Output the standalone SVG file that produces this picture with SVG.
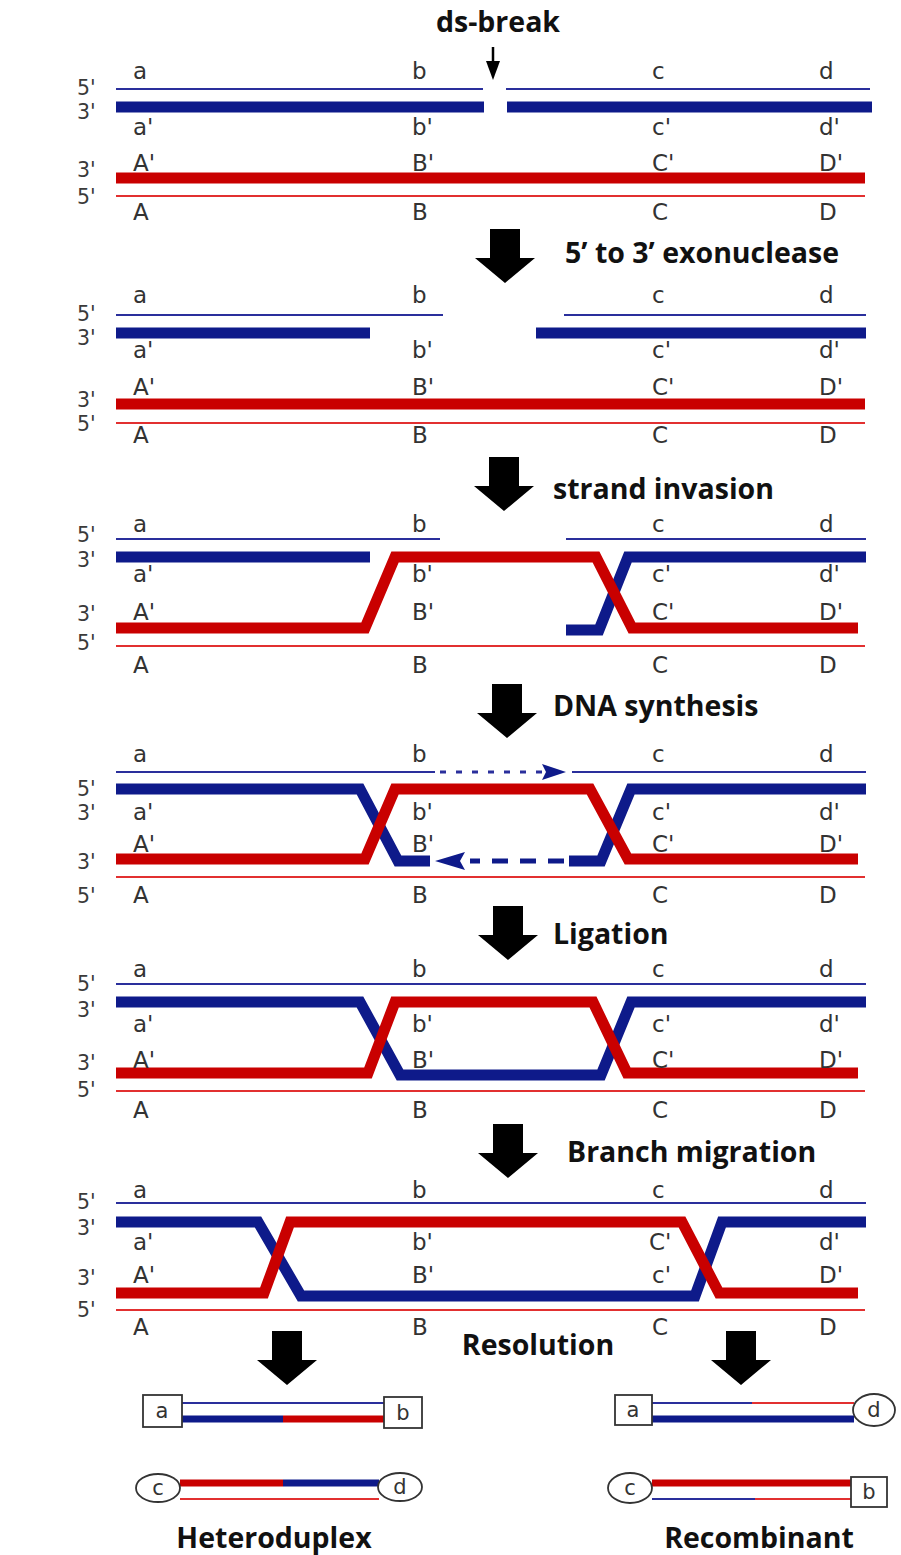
<svg xmlns="http://www.w3.org/2000/svg" width="901" height="1555" viewBox="0 0 901 1555">
<style>
.tb{stroke:#2a2f9c;stroke-width:2.2;fill:none}
.TB{stroke:#0e1a8a;stroke-width:11;fill:none;stroke-linejoin:miter}
.TR{stroke:#c90000;stroke-width:11;fill:none;stroke-linejoin:miter}
.tr{stroke:#e23030;stroke-width:2.2;fill:none}
.sb{stroke:#0e1a8a;stroke-width:7;fill:none}
.sr{stroke:#c90000;stroke-width:7;fill:none}
.lb{font-family:"DejaVu Sans",Verdana,sans-serif;font-size:23px;fill:#333}
.end{font-family:"DejaVu Sans",Verdana,sans-serif;font-size:20.5px;fill:#3a3a3a}
.tt{font-family:"Open Sans","Liberation Sans",sans-serif;font-weight:700;font-size:28.5px;fill:#111}
.box{fill:#fff;stroke:#333;stroke-width:1.8}
.cap{font-family:"DejaVu Sans",Verdana,sans-serif;font-size:21px;fill:#333;text-anchor:middle}
</style>
<defs>
<path id="bigArrow" d="M-15,0 H15 V29 H30 L0,54 L-30,29 H-15 Z" fill="#000"/>
</defs>
<rect width="901" height="1555" fill="#fff"/>

<g id="titles">
<text class="tt" x="498" y="32" text-anchor="middle">ds-break</text>
<text class="tt" x="565" y="263">5’ to 3’ exonuclease</text>
<text class="tt" x="553" y="499">strand invasion</text>
<text class="tt" x="553" y="716">DNA synthesis</text>
<text class="tt" x="553" y="944">Ligation</text>
<text class="tt" x="567" y="1162">Branch migration</text>
<text class="tt" x="538" y="1355" text-anchor="middle">Resolution</text>
<text class="tt" x="274" y="1548" text-anchor="middle">Heteroduplex</text>
<text class="tt" x="759" y="1548" text-anchor="middle">Recombinant</text>
</g>

<g id="connectors">
<path d="M493,47 V63" stroke="#000" stroke-width="2.5"/>
<path d="M486,61 H500 L493,80 Z" fill="#000"/>
<use href="#bigArrow" x="505" y="229"/>
<use href="#bigArrow" x="504" y="457"/>
<use href="#bigArrow" x="507" y="684"/>
<use href="#bigArrow" x="508" y="906"/>
<use href="#bigArrow" x="508" y="1124"/>
<use href="#bigArrow" x="287" y="1331"/>
<use href="#bigArrow" x="741" y="1331"/>
</g>

<!-- Panel 1 -->
<g id="panel1">
<path class="tb" d="M116,89 H483 M506,89 H870"/>
<path class="TB" d="M116,107 H484 M507,107 H872"/>
<path class="TR" d="M116,178 H865"/>
<path class="tr" d="M116,196 H865"/>
<text class="end" x="77" y="95">5'</text>
<text class="end" x="77" y="119">3'</text>
<text class="end" x="77" y="177">3'</text>
<text class="end" x="77" y="204">5'</text>
<text class="lb" x="133" y="79">a</text><text class="lb" x="412" y="79">b</text><text class="lb" x="652" y="79">c</text><text class="lb" x="819" y="79">d</text>
<text class="lb" x="133" y="135">a'</text><text class="lb" x="412" y="135">b'</text><text class="lb" x="652" y="135">c'</text><text class="lb" x="819" y="135">d'</text>
<text class="lb" x="133" y="171">A'</text><text class="lb" x="412" y="171">B'</text><text class="lb" x="652" y="171">C'</text><text class="lb" x="819" y="171">D'</text>
<text class="lb" x="133" y="220">A</text><text class="lb" x="412" y="220">B</text><text class="lb" x="652" y="220">C</text><text class="lb" x="819" y="220">D</text>
</g>

<!-- Panel 2 -->
<g id="panel2">
<path class="tb" d="M116,315 H443 M564,315 H866"/>
<path class="TB" d="M116,333 H370 M536,333 H866"/>
<path class="TR" d="M116,404 H865"/>
<path class="tr" d="M116,423 H865"/>
<text class="end" x="77" y="321">5'</text>
<text class="end" x="77" y="345">3'</text>
<text class="end" x="77" y="407">3'</text>
<text class="end" x="77" y="431">5'</text>
<text class="lb" x="133" y="303">a</text><text class="lb" x="412" y="303">b</text><text class="lb" x="652" y="303">c</text><text class="lb" x="819" y="303">d</text>
<text class="lb" x="133" y="358">a'</text><text class="lb" x="412" y="358">b'</text><text class="lb" x="652" y="358">c'</text><text class="lb" x="819" y="358">d'</text>
<text class="lb" x="133" y="395">A'</text><text class="lb" x="412" y="395">B'</text><text class="lb" x="652" y="395">C'</text><text class="lb" x="819" y="395">D'</text>
<text class="lb" x="133" y="443">A</text><text class="lb" x="412" y="443">B</text><text class="lb" x="652" y="443">C</text><text class="lb" x="819" y="443">D</text>
</g>

<!-- Panel 3 -->
<g id="panel3">
<path class="tb" d="M116,539 H440 M566,539 H866"/>
<path class="TB" d="M116,557 H370"/>
<path class="TB" d="M866,557 H628 L599,630 H566"/>
<path class="TR" d="M116,628 H365 L395,557 H596 L632,628 H858"/>
<path class="tr" d="M116,646 H865"/>
<text class="end" x="77" y="542">5'</text>
<text class="end" x="77" y="567">3'</text>
<text class="end" x="77" y="621">3'</text>
<text class="end" x="77" y="650">5'</text>
<text class="lb" x="133" y="532">a</text><text class="lb" x="412" y="532">b</text><text class="lb" x="652" y="532">c</text><text class="lb" x="819" y="532">d</text>
<text class="lb" x="133" y="582">a'</text><text class="lb" x="412" y="582">b'</text><text class="lb" x="652" y="582">c'</text><text class="lb" x="819" y="582">d'</text>
<text class="lb" x="133" y="620">A'</text><text class="lb" x="412" y="620">B'</text><text class="lb" x="652" y="620">C'</text><text class="lb" x="819" y="620">D'</text>
<text class="lb" x="133" y="673">A</text><text class="lb" x="412" y="673">B</text><text class="lb" x="652" y="673">C</text><text class="lb" x="819" y="673">D</text>
</g>

<!-- Panel 4 -->
<g id="panel4">
<path class="tb" d="M116,772 H435 M572,772 H866"/>
<path d="M440,772 H543" stroke="#2a2f9c" stroke-width="3" stroke-dasharray="6 10"/>
<path d="M566,772 L542,764 L546,772 L542,780 Z" fill="#0e1a8a"/>
<path class="TB" d="M116,789 H360 L398,861 H430"/>
<path class="TB" d="M866,789 H631 L601,861 H569"/>
<path d="M564,861 H470" stroke="#0e1a8a" stroke-width="5" stroke-dasharray="16 12"/>
<path d="M435,861 L465,852 L460,861 L465,870 Z" fill="#0e1a8a"/>
<path class="TR" d="M116,859 H365 L395,789 H590 L628,859 H858"/>
<path class="tr" d="M116,877 H865"/>
<text class="end" x="77" y="796">5'</text>
<text class="end" x="77" y="820">3'</text>
<text class="end" x="77" y="869">3'</text>
<text class="end" x="77" y="903">5'</text>
<text class="lb" x="133" y="762">a</text><text class="lb" x="412" y="762">b</text><text class="lb" x="652" y="762">c</text><text class="lb" x="819" y="762">d</text>
<text class="lb" x="133" y="820">a'</text><text class="lb" x="412" y="820">b'</text><text class="lb" x="652" y="820">c'</text><text class="lb" x="819" y="820">d'</text>
<text class="lb" x="133" y="852">A'</text><text class="lb" x="412" y="852">B'</text><text class="lb" x="652" y="852">C'</text><text class="lb" x="819" y="852">D'</text>
<text class="lb" x="133" y="903">A</text><text class="lb" x="412" y="903">B</text><text class="lb" x="652" y="903">C</text><text class="lb" x="819" y="903">D</text>
</g>

<!-- Panel 5 -->
<g id="panel5">
<path class="tb" d="M116,984 H866"/>
<path class="TB" d="M116,1002 H360 L400,1075 H601 L631,1002 H866"/>
<path class="TR" d="M116,1073 H368 L395,1002 H593 L627,1073 H858"/>
<path class="tr" d="M116,1091 H865"/>
<text class="end" x="77" y="991">5'</text>
<text class="end" x="77" y="1017">3'</text>
<text class="end" x="77" y="1070">3'</text>
<text class="end" x="77" y="1097">5'</text>
<text class="lb" x="133" y="977">a</text><text class="lb" x="412" y="977">b</text><text class="lb" x="652" y="977">c</text><text class="lb" x="819" y="977">d</text>
<text class="lb" x="133" y="1032">a'</text><text class="lb" x="412" y="1032">b'</text><text class="lb" x="652" y="1032">c'</text><text class="lb" x="819" y="1032">d'</text>
<text class="lb" x="133" y="1068">A'</text><text class="lb" x="412" y="1068">B'</text><text class="lb" x="652" y="1068">C'</text><text class="lb" x="819" y="1068">D'</text>
<text class="lb" x="133" y="1118">A</text><text class="lb" x="412" y="1118">B</text><text class="lb" x="652" y="1118">C</text><text class="lb" x="819" y="1118">D</text>
</g>

<!-- Panel 6 -->
<g id="panel6">
<path class="tb" d="M116,1203 H866"/>
<path class="TB" d="M116,1222 H258 L301,1296 H695 L722,1222 H866"/>
<path class="TR" d="M116,1293 H264 L290,1222 H682 L719,1293 H858"/>
<path class="tr" d="M116,1310 H865"/>
<text class="end" x="77" y="1209">5'</text>
<text class="end" x="77" y="1235">3'</text>
<text class="end" x="77" y="1285">3'</text>
<text class="end" x="77" y="1317">5'</text>
<text class="lb" x="133" y="1198">a</text><text class="lb" x="412" y="1198">b</text><text class="lb" x="652" y="1198">c</text><text class="lb" x="819" y="1198">d</text>
<text class="lb" x="133" y="1250">a'</text><text class="lb" x="412" y="1250">b'</text><text class="lb" x="649" y="1250">C'</text><text class="lb" x="819" y="1250">d'</text>
<text class="lb" x="133" y="1283">A'</text><text class="lb" x="412" y="1283">B'</text><text class="lb" x="652" y="1283">c'</text><text class="lb" x="819" y="1283">D'</text>
<text class="lb" x="133" y="1335">A</text><text class="lb" x="412" y="1335">B</text><text class="lb" x="652" y="1335">C</text><text class="lb" x="819" y="1335">D</text>
</g>

<!-- Heteroduplex -->
<g id="hetero1">
<path class="tb" d="M182,1403 H384"/>
<path class="sb" d="M182,1419 H283"/>
<path class="sr" d="M283,1419 H384"/>
<rect class="box" x="143" y="1395" width="39" height="32"/>
<text class="cap" x="162" y="1418">a</text>
<rect class="box" x="384" y="1397" width="38" height="31"/>
<text class="cap" x="403" y="1420">b</text>
</g>
<g id="hetero2">
<path class="sr" d="M180,1483 H283"/>
<path class="sb" d="M283,1483 H379"/>
<path class="tr" d="M180,1499 H379"/>
<ellipse class="box" cx="158" cy="1488" rx="22" ry="14"/>
<text class="cap" x="158" y="1495">c</text>
<ellipse class="box" cx="400" cy="1487" rx="22" ry="14"/>
<text class="cap" x="400" y="1494">d</text>
</g>

<!-- Recombinant -->
<g id="recomb1">
<path class="tb" d="M652,1403 H752"/>
<path class="tr" d="M752,1403 H854"/>
<path class="sb" d="M652,1419 H854"/>
<rect class="box" x="615" y="1395" width="37" height="30"/>
<text class="cap" x="633" y="1417">a</text>
<ellipse class="box" cx="874" cy="1410" rx="21" ry="16"/>
<text class="cap" x="874" y="1417">d</text>
</g>
<g id="recomb2">
<path class="sr" d="M652,1483 H851"/>
<path class="tb" d="M652,1499 H755"/>
<path class="tr" d="M755,1499 H851"/>
<ellipse class="box" cx="630" cy="1488" rx="22" ry="15"/>
<text class="cap" x="630" y="1495">c</text>
<rect class="box" x="851" y="1477" width="36" height="30"/>
<text class="cap" x="869" y="1499">b</text>
</g>
</svg>
